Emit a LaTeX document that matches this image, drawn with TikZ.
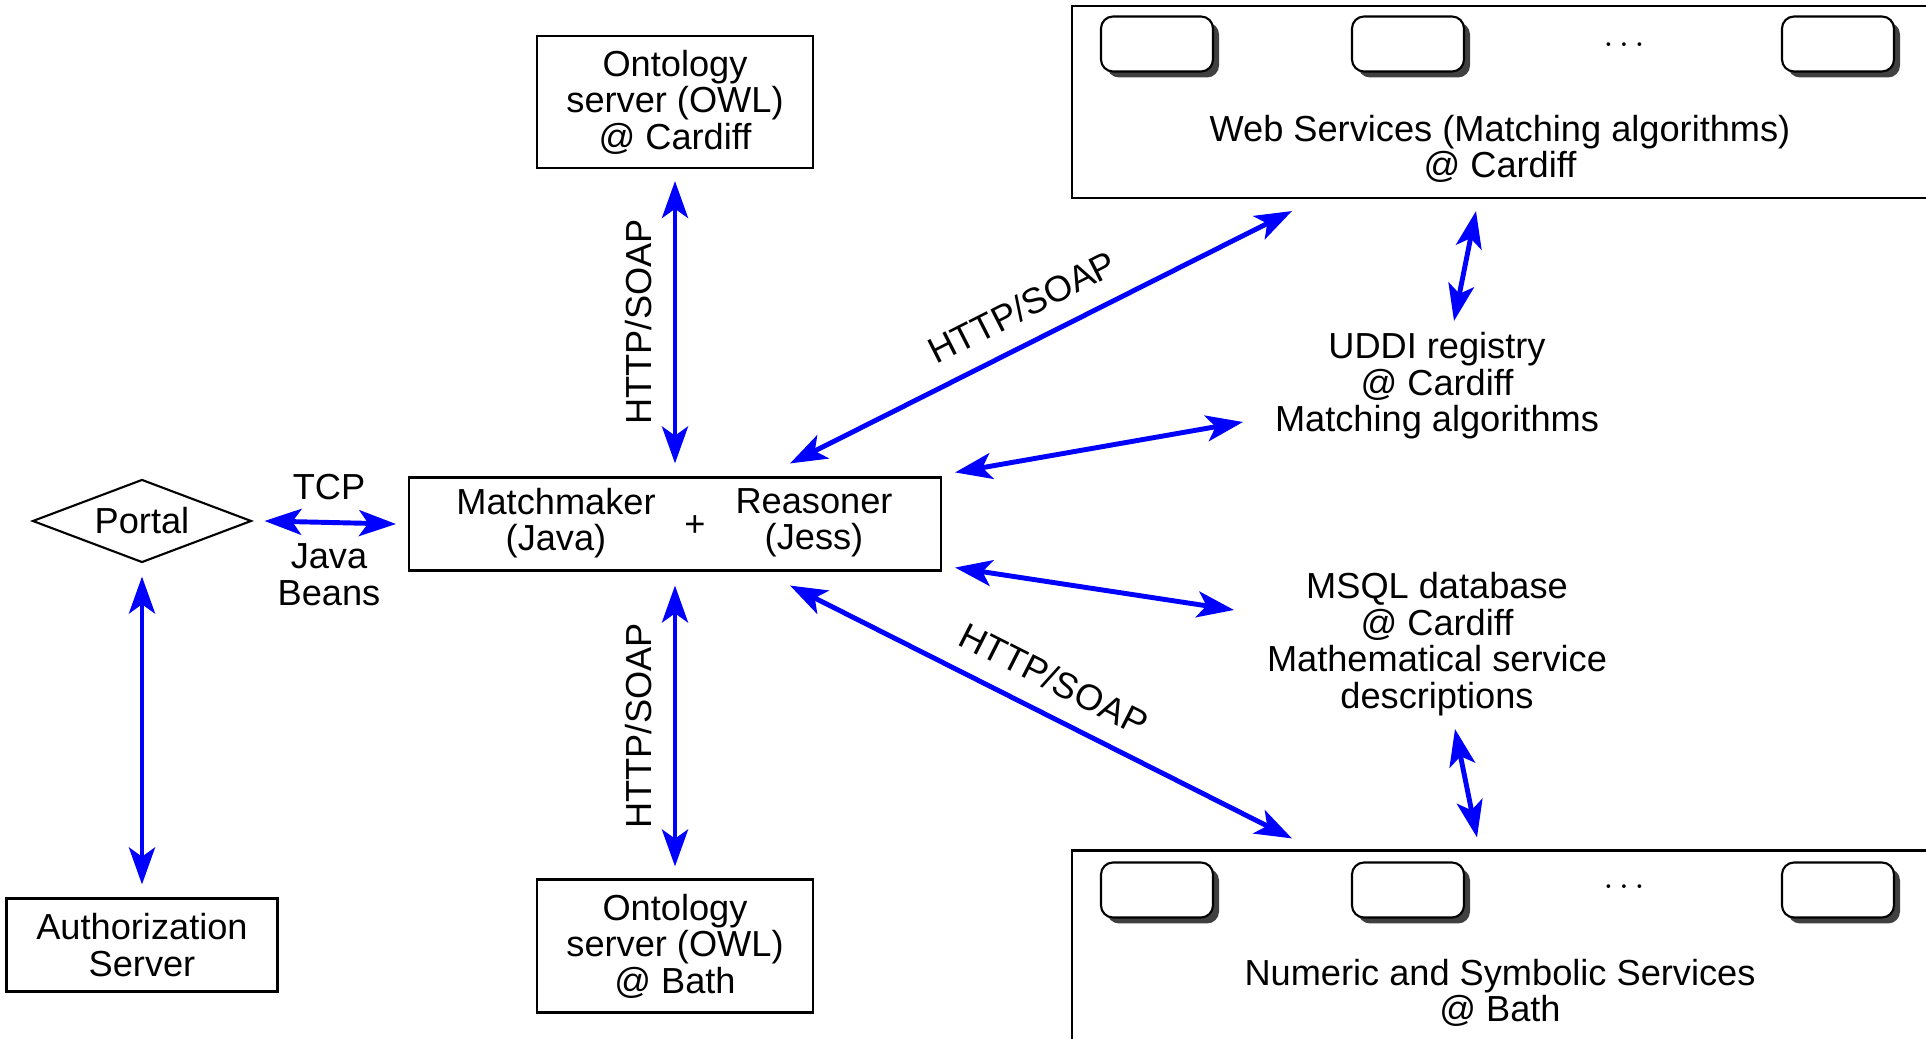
\documentclass[tikz,border=0pt]{standalone}
\usepackage{fontspec}
\setmainfont{Liberation Sans}
\usetikzlibrary{shapes.geometric,arrows.meta,shadows}
\newcommand{\boxline}{.6pt}

\begin{document}
\begin{tikzpicture}[x=.1mm,y=-.1mm,font=\fontsize{10.3}{10.4}\selectfont,
    box/.style={draw,line width=\boxline,inner sep=0pt,align=center},
    link/.style={blue,line width=1.4pt,{Stealth[length=10.5pt,width=7.4pt,inset=2.6pt]}-{Stealth[length=10.5pt,width=7.4pt,inset=2.6pt]}},
    srv/.style={draw,line width=\boxline,fill=white,rounded corners=1.2mm,
      minimum width=11.2mm,minimum height=5.5mm,
      general shadow={fill=black!75,shadow xshift=.6mm,shadow yshift=-.6mm}}]
  \useasboundingbox (0,0) rectangle (1926,1039);
      %% middle column: ontology servers and the matchmaker
      \node (ot) at (675,102) [box,minimum width=27.6mm,minimum height=13.2mm] {Ontology\\server (OWL)\\@ Cardiff};
      \node (ob) at (675,946) [box,minimum width=27.6mm,minimum height=13.3mm] {Ontology\\server (OWL)\\@ Bath};
      \node (mm) at (675,524) [box,minimum width=53.2mm,minimum height=9.3mm] {};
      \node (mj) at (556,523) [align=center] {Matchmaker\\(Java)};
      \node (pl) at (695,526) {+};
      \node (rj) at (814,523) [align=center] {Reasoner\\(Jess)};
      %% left column
      \node (portal) at (142,521) [draw,line width=\boxline,diamond,aspect=2.64,minimum width=21.9mm,
        minimum height=8.3mm,inner sep=0pt] {Portal};
      \node (auth) at (142,945) [box,minimum width=27.1mm,minimum height=9.3mm] {Authorization\\Server};
      \node (tcp) at (329,487) {TCP};
      \node (jb) at (329,575) [align=center] {Java\\Beans};
      %% right column: the two service boxes run off the page
      \node (ws) at (1516,102) [box,minimum width=88.8mm,minimum height=19.2mm] {};
      \node (wst) at (1500,149) [align=center] {Web Services (Matching algorithms)\\@ Cardiff};
      \node (ns) at (1516,955) [box,minimum width=88.8mm,minimum height=20.9mm] {};
      \node (nst) at (1500,993) [align=center] {Numeric and Symbolic Services\\@ Bath};
      \foreach \x/\n in {1157/1,1408/2,1838/3}
      { \node (w\n) at (\x,44) [srv] {};
        \node (n\n) at (\x,890) [srv] {};}
      \node (wd) at (1624,45) {$\ldots$};
      \node (nd) at (1624,887) {$\ldots$};
      \node (uddi) at (1437,386) [align=center] {UDDI registry\\@ Cardiff\\Matching algorithms};
      \node (msql) at (1437,644) [align=center] {MSQL database\\@ Cardiff\\Mathematical service\\descriptions};
      %% connections
      \draw[link] ([xshift=1.2mm]portal.east) -- ([xshift=-1.2mm]mm.west);
      \draw[link] ([yshift=-1.3mm]portal.south) -- ([yshift=1.3mm]auth.north);
      \draw[link] ([yshift=-1.2mm]ot.south) -- ([yshift=1.3mm]mm.north);
      \draw[link] ([yshift=-1.4mm]mm.south) -- ([yshift=1.2mm]ob.north);
      \draw[link] ([xshift=11.5mm,yshift=1.3mm]mm.north) -- ([xshift=-22.4mm,yshift=-1.2mm]ws.south);
      \draw[link] ([xshift=-4mm,yshift=-1.2mm]ws.south) -- ([xshift=1.7mm,yshift=6.5mm]uddi.center);
      \draw[link] ([xshift=1.3mm,yshift=.4mm]mm.north east) -- ([xshift=-19.4mm,yshift=-3.6mm]uddi.center);
      \draw[link] ([xshift=1.3mm,yshift=.4mm]mm.south east) -- ([xshift=-20.3mm,yshift=3.4mm]msql.center);
      \draw[link] ([xshift=11.5mm,yshift=-1.4mm]mm.south) -- ([xshift=-22.4mm,yshift=1.1mm]ns.north);
      \draw[link] ([xshift=1.8mm,yshift=-8.5mm]msql.center) -- ([xshift=-3.9mm,yshift=1.2mm]ns.north);
      \node (h1) at (639,322) [rotate=90] {HTTP/SOAP};
      \node (h2) at (639,726) [rotate=90] {HTTP/SOAP};
      \node (h3) at (1022,307) [rotate=26.9] {HTTP/SOAP};
      \node (h4) at (1054,679) [rotate=-26.9] {HTTP/SOAP};
\end{tikzpicture}
\end{document}
